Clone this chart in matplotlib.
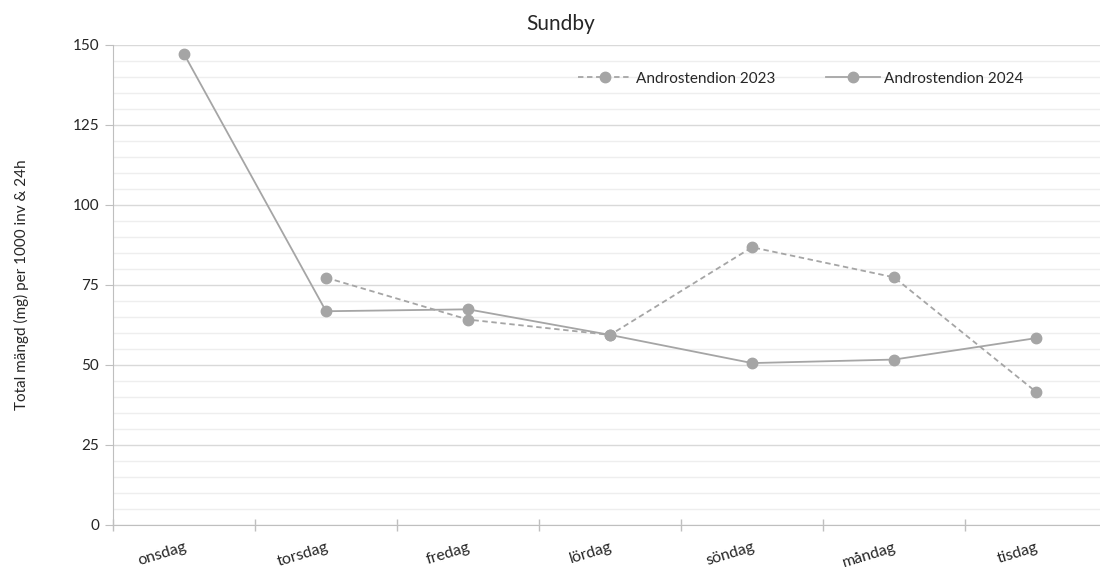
import matplotlib.pyplot as plt
import numpy as np
from matplotlib.ticker import MultipleLocator, FixedLocator

plt.rcParams["font.family"] = ["Lato", "DejaVu Sans"]

days = ["onsdag", "torsdag", "fredag", "lördag", "söndag", "måndag", "tisdag"]
andro_2023 = [np.nan, 77.3, 64.2, 59.4, 86.8, 77.4, 41.6]
andro_2024 = [147.2, 66.8, 67.4, 59.4, 50.6, 51.7, 58.4]

GREY = "#A5A5A5"

fig = plt.figure(figsize=(11, 5.72), dpi=100)
ax = fig.add_axes([113 / 1100, 1 - 525 / 572, 987 / 1100, 480 / 572])

x = np.arange(len(days))
ax.plot(x, andro_2023, color=GREY, lw=1.3, ls=(0, (3, 2)), marker="o", ms=7.5,
        label="Androstendion 2023", zorder=3)
ax.plot(x, andro_2024, color=GREY, lw=1.3, marker="o", ms=7.5,
        label="Androstendion 2024", zorder=3)

ax.set_xlim(-0.5, 6.45)
ax.set_ylim(0, 150)
ax.yaxis.set_major_locator(MultipleLocator(25))
ax.yaxis.set_minor_locator(MultipleLocator(5))
ax.grid(axis="y", which="major", color="#D9D9D9", lw=1.0, zorder=0)
ax.grid(axis="y", which="minor", color="#EEEEEE", lw=1.0, zorder=0)

ax.set_xticks(x)
ax.set_xticklabels(days, rotation=17, fontsize=11.5, color="#262626",
                   ha="right", va="top", rotation_mode="anchor")
ax.xaxis.set_minor_locator(FixedLocator(np.arange(-0.5, 6.0, 1.0)))
ax.tick_params(axis="x", which="major", length=0, pad=11)
ax.tick_params(axis="x", which="minor", direction="inout", length=9, color="#BFBFBF", width=1)
ax.tick_params(axis="y", which="major", length=6, color="#BFBFBF", labelsize=11,
               labelcolor="#262626", pad=4)
ax.tick_params(axis="y", which="minor", length=0)

for s in ["top", "right"]:
    ax.spines[s].set_visible(False)
ax.spines["left"].set_color("#BFBFBF")
ax.spines["bottom"].set_color("#BFBFBF")
ax.set_axisbelow(True)

ax.set_ylabel("Total mängd (mg) per 1000 inv & 24h", fontsize=11, color="#262626", labelpad=31)
fig.text(561 / 1100, 1 - 24 / 572, "Sundby", ha="center", va="center", fontsize=15, color="#262626")

ax.legend(loc="center", bbox_to_anchor=(0.697, 0.93), ncol=2, frameon=False, fontsize=11,
          handlelength=3.5, columnspacing=3.3, handletextpad=0.3, labelcolor="#262626")

fig.savefig("out.png", dpi=100)
